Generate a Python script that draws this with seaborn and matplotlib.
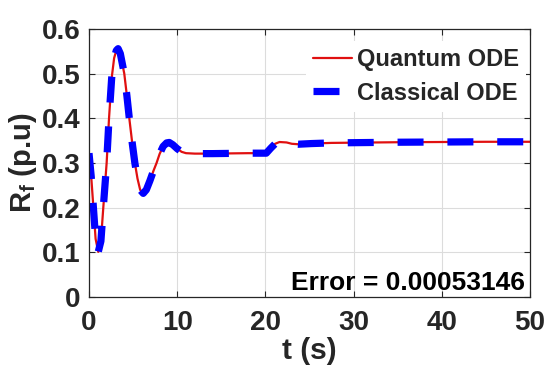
import matplotlib
matplotlib.use("Agg")
import matplotlib.pyplot as plt
import seaborn as sns
import pandas as pd

# Data
t = [0, 0.25, 0.5, 0.75, 1.05, 1.35, 1.62, 2.0, 2.27, 2.57, 2.85, 3.1, 3.3, 3.55,
     3.8, 4.0, 4.3, 4.57, 4.9, 5.2, 5.5, 5.8, 6.15, 6.5, 6.9, 7.3, 7.66, 8.0, 8.4,
     8.8, 9.1, 9.5, 10.0, 10.5, 11.0, 12.0, 14.0, 16.0, 18.0, 20.1, 20.6, 21.1,
     21.6, 22.4, 23.0, 23.7, 25.2, 27.5, 30.0, 35.0, 40.0, 45.0, 50.0]
quantum = [0.322, 0.27, 0.20, 0.13, 0.101, 0.125, 0.20, 0.30, 0.40, 0.49, 0.535,
           0.552, 0.556, 0.545, 0.52, 0.50, 0.45, 0.40, 0.345, 0.30, 0.265, 0.24,
           0.232, 0.24, 0.26, 0.282, 0.30, 0.32, 0.337, 0.345, 0.346, 0.341, 0.332,
           0.325, 0.322, 0.321, 0.321, 0.3215, 0.322, 0.322, 0.333, 0.343, 0.347,
           0.346, 0.343, 0.342, 0.3435, 0.345, 0.3455, 0.3465, 0.347, 0.3475, 0.3475]
classical = list(quantum)
x_ticks = [0, 10, 20, 30, 40, 50]
y_ticks = [0, 0.1, 0.2, 0.3, 0.4, 0.5, 0.6]
y_tick_labels = ["0", "0.1", "0.2", "0.3", "0.4", "0.5", "0.6"]
error_text = "Error = 0.00053146"

sns.set_style("whitegrid")
plt.rcParams['font.family'] = ['Liberation Sans', 'DejaVu Sans']
plt.rcParams['font.weight'] = 'bold'
plt.rcParams['mathtext.fontset'] = 'custom'
plt.rcParams['mathtext.rm'] = 'Liberation Sans:bold'
plt.rcParams['mathtext.it'] = 'Liberation Sans:bold'
plt.rcParams['mathtext.bf'] = 'Liberation Sans:bold'

fig = plt.figure(figsize=(5.6, 3.68), dpi=100)
ax = fig.add_axes([89/560, 1-297/368, 441/560, 268/368])

df_q = pd.DataFrame({"t": t, "v": quantum})
df_c = pd.DataFrame({"t": t, "v": classical})

sns.lineplot(data=df_q, x="t", y="v", ax=ax, color="#E01010", linewidth=1.6,
             label="Quantum ODE", zorder=3, estimator=None, sort=False)
sns.lineplot(data=df_c, x="t", y="v", ax=ax, color="#0000FF", linewidth=5.2,
             label="Classical ODE", zorder=4, estimator=None, sort=False)
line_c = ax.lines[-1]
line_c.set_dashes((3.6, 3.3))
line_c.set_dash_capstyle('butt')

ax.set_xlim(0, 50)
ax.set_ylim(0, 0.6)
ax.set_xticks(x_ticks)
ax.set_yticks(y_ticks)
ax.set_yticklabels(y_tick_labels)
ax.grid(True, color="#dcdcdc", linewidth=0.8)
for s in ax.spines.values():
    s.set_color("#262626")
    s.set_linewidth(0.9)
    s.set_visible(True)
    s.set_zorder(10)
ax.tick_params(direction='in', length=4, width=0.8, color="#262626",
               top=True, right=True, bottom=True, left=True,
               labelsize=20, labelcolor="#262626")
ax.tick_params(axis='x', pad=9)
ax.tick_params(axis='y', pad=6)
for lab in ax.get_xticklabels() + ax.get_yticklabels():
    lab.set_fontweight('bold')

ax.set_xlabel("t (s)", fontsize=21.5, fontweight='bold', color="#262626", labelpad=1)
ax.set_ylabel(r"R$_{\mathregular{f}}$ (p.u)", fontsize=21, fontweight='bold',
              color="#262626", labelpad=2)

h, l = ax.get_legend_handles_labels()
leg = ax.legend(h, l, loc='upper right', bbox_to_anchor=(1.018, 1.0), fontsize=17,
                frameon=True, facecolor='white', edgecolor='none', framealpha=1,
                handlelength=1.65, handletextpad=0.2, borderpad=0.3,
                labelspacing=0.45, fancybox=False)
for txt in leg.get_texts():
    txt.set_fontweight('bold')

ax.text(0.989, 0.026, error_text, transform=ax.transAxes, ha='right',
        va='baseline', fontsize=19, fontweight='bold', color='black', zorder=6)

fig.savefig("out.png", dpi=100)
